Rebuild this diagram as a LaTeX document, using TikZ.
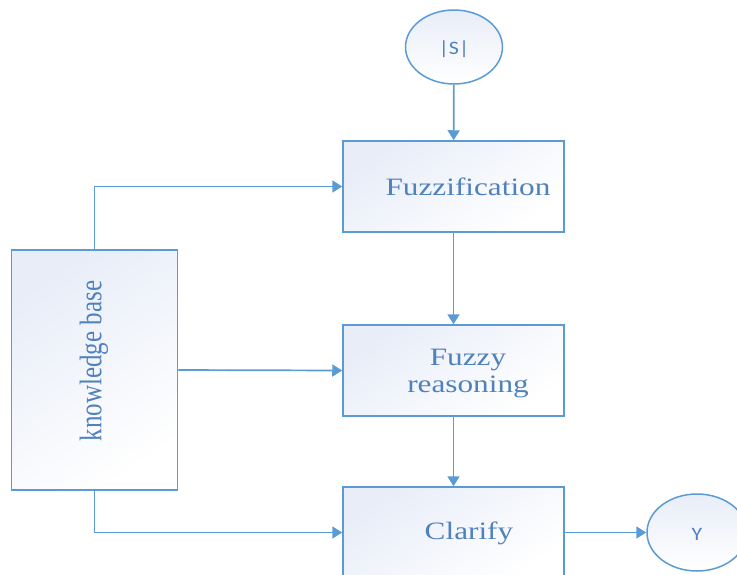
\documentclass[tikz,border=0pt]{standalone}
\usepackage{fontspec}
\setmainfont{Liberation Serif}
\newfontfamily\labsans{Carlito}
\usetikzlibrary{arrows.meta,shapes.geometric}
\definecolor{edgeblue}{HTML}{5B9BD5}
\definecolor{txtblue}{HTML}{4F81BD}
\definecolor{fillblue}{HTML}{E8EDF8}
\newcommand{\sx}[1]{\scalebox{1.25}[1]{#1}}
\tikzset{
  box/.style={draw=edgeblue, line width=1.5pt, rectangle, inner sep=0pt,
    top color=fillblue, bottom color=white, middle color=white!50!fillblue, shading angle=35},
  oval/.style={draw=edgeblue, line width=1.5pt, ellipse, inner sep=0pt,
    top color=fillblue, bottom color=white},
  bigtxt/.style={text=txtblue, font=\fontsize{25}{27}\selectfont, align=center, inner sep=0pt},
  smalltxt/.style={text=txtblue, font=\labsans\fontsize{19}{21}\selectfont, inner sep=0pt},
  conn/.style={draw=edgeblue, line width=1.7pt, -{Triangle[length=10pt,width=12pt]}}
}
\begin{document}
\begin{tikzpicture}[x=1pt,y=-1pt]
\useasboundingbox (0,0) rectangle (737,574);
\clip (0,0) rectangle (737,574);
\node[oval, minimum width=97pt, minimum height=74pt] (S) at (454,47) {};
\node[smalltxt] (Stxt) at (454,49) {\scalebox{1.15}[1]{|S|}};
\node[box, minimum width=221pt, minimum height=91pt] (fuzz) at (453.5,186.5) {};
\node[bigtxt] (fuzztxt) at (468,187) {\sx{Fuzzification}};
\node[box, minimum width=221pt, minimum height=91pt] (reas) at (453.5,370.5) {};
\node[bigtxt] (reastxt) at (468,374) {\sx{Fuzzy}\\\sx{reasoning}};
\node[box, minimum width=221pt, minimum height=91pt] (clar) at (453.5,532.5) {};
\node[bigtxt] (clartxt) at (469,533) {\sx{Clarify}};
\node[box, minimum width=166pt, minimum height=240pt] (kb) at (94.5,370) {};
\node[bigtxt] (kbtxt) at (94,361) {\scalebox{1.25}[1]{\rotatebox{90}{knowledge base}}};
\node[oval, minimum width=100pt, minimum height=77pt] (Y) at (697,532.5) {};
\node[smalltxt] (Ytxt) at (697,534) {\scalebox{1.15}[1]{Y}};
\draw[conn] (S) -- (fuzz);
\draw[conn] (fuzz) -- (reas);
\draw[conn] (reas) -- (clar);
\draw[conn] (kb.north) |- (fuzz.west);
\draw[conn] (kb.east) -- (reas.west);
\draw[conn] (kb.south) |- (clar.west);
\draw[conn] (clar.east) -- (Y.west);
\end{tikzpicture}
\end{document}
